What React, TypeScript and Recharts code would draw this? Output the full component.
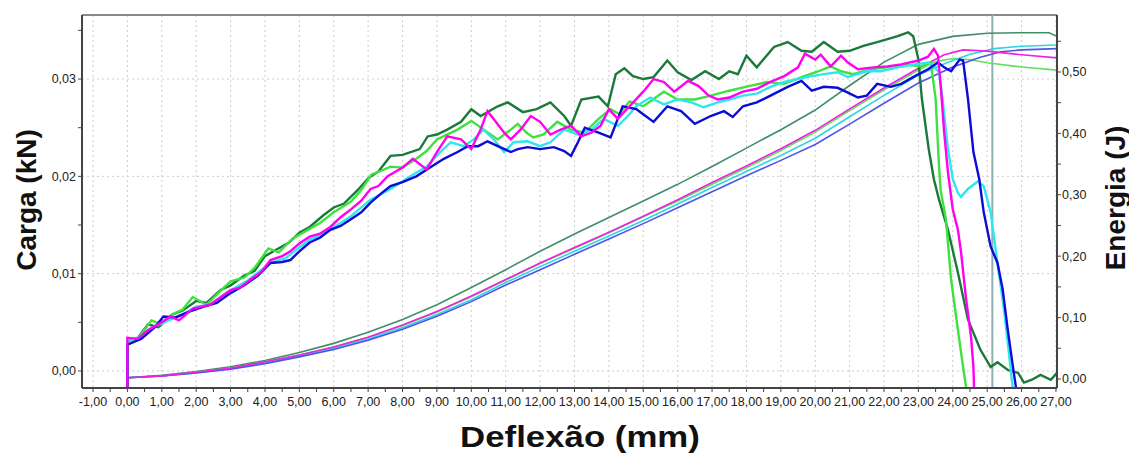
import { ComposedChart, Line, XAxis, YAxis, CartesianGrid, ReferenceLine } from 'recharts';

type Pt = [number, number];

// Carga (kN) vs deflexão (mm), one list per corpo de prova
const loadDarkGreen: Pt[] = [
    [0, -0.003], [0, 0.003], [0.3, 0.0034], [0.6, 0.0048], [0.9, 0.0045], [1.3, 0.0058], [1.6, 0.0062],
    [2.0, 0.0072], [2.3, 0.007], [2.7, 0.0083], [3.0, 0.0088], [3.4, 0.0098], [3.7, 0.0103], [4.0, 0.0118],
    [4.3, 0.0124], [4.7, 0.0132], [5.0, 0.0142], [5.3, 0.0148], [5.7, 0.016], [6.0, 0.0168], [6.3, 0.0172],
    [6.7, 0.0186], [7.0, 0.0198], [7.3, 0.0205], [7.65, 0.0221], [8.0, 0.0222], [8.5, 0.0228], [8.73, 0.0241],
    [9.0, 0.0243], [9.3, 0.0248], [9.7, 0.0256], [10.0, 0.0269], [10.27, 0.0262], [10.77, 0.0272], [11.06, 0.0276],
    [11.5, 0.0266], [11.9, 0.0269], [12.3, 0.0276], [12.7, 0.0262], [12.9, 0.0252], [13.2, 0.0279], [13.7, 0.0282],
    [13.97, 0.0272], [14.2, 0.0305], [14.45, 0.0311], [14.7, 0.0303], [15.0, 0.03], [15.3, 0.0302], [15.7, 0.0319],
    [16.0, 0.0307], [16.4, 0.0299], [16.8, 0.0308], [17.2, 0.03], [17.5, 0.0308], [17.75, 0.0305], [18.0, 0.0324],
    [18.3, 0.0312], [18.8, 0.0333], [19.2, 0.0338], [19.6, 0.0329], [19.9, 0.0328], [20.25, 0.0338], [20.65, 0.0328],
    [21.0, 0.0329], [21.4, 0.0334], [21.8, 0.0338], [22.1, 0.0341], [22.4, 0.0344], [22.7, 0.0348], [22.85, 0.0344],
    [23.0, 0.032], [23.1, 0.028], [23.3, 0.0228], [23.45, 0.0197], [23.6, 0.0176], [23.86, 0.0145], [24.15, 0.0101],
    [24.44, 0.0053], [24.8, 0.0022], [25.1, 0.0004], [25.3, 0.0009], [25.6, 0.0001], [25.9, -0.0002], [26.07, -0.0012],
    [26.3, -0.0009], [26.55, -0.0004], [26.85, -0.0009], [27.03, -0.0002],
];

const loadLightGreen: Pt[] = [
    [0, -0.003], [0, 0.003], [0.3, 0.0033], [0.7, 0.0052], [1.0, 0.0048], [1.3, 0.0058], [1.6, 0.0063],
    [1.9, 0.0076], [2.3, 0.0068], [2.7, 0.0082], [3.0, 0.0092], [3.4, 0.0096], [3.7, 0.0106], [4.1, 0.0126],
    [4.4, 0.0122], [4.8, 0.0136], [5.3, 0.0146], [5.6, 0.0152], [6.0, 0.0163], [6.5, 0.0174], [6.8, 0.0186],
    [7.1, 0.0202], [7.4, 0.0206], [7.65, 0.021], [8.0, 0.0209], [8.4, 0.0218], [8.7, 0.0226], [9.0, 0.0238],
    [9.6, 0.0248], [10.0, 0.0257], [10.36, 0.0248], [10.77, 0.0238], [11.15, 0.0248], [11.35, 0.0254], [11.6, 0.0245],
    [11.8, 0.024], [12.1, 0.0243], [12.5, 0.0256], [12.9, 0.0248], [13.3, 0.0245], [13.7, 0.0259], [14.05, 0.0269],
    [14.3, 0.0264], [14.6, 0.0277], [15.0, 0.0272], [15.6, 0.0287], [16.0, 0.0279], [16.5, 0.0279], [16.96, 0.0283],
    [17.5, 0.0288], [18.1, 0.0293], [18.6, 0.0297], [19.1, 0.0295], [19.6, 0.0302], [20.1, 0.0308], [20.45, 0.0313],
    [20.75, 0.0308], [21.1, 0.0305], [21.6, 0.031], [22.1, 0.0312], [22.6, 0.0315], [23.07, 0.0313], [23.36, 0.0317],
    [23.5, 0.028], [23.6, 0.021], [23.65, 0.0185], [23.8, 0.0156], [23.95, 0.0094], [24.15, 0.0042], [24.3, 0.0004],
    [24.4, -0.002],
];

const loadMagenta: Pt[] = [
    [0, -0.003], [0, 0.0034], [0.3, 0.0033], [0.6, 0.0042], [1.0, 0.005], [1.25, 0.0056], [1.5, 0.0052],
    [1.9, 0.0064], [2.4, 0.0068], [3.0, 0.0083], [3.3, 0.0086], [3.58, 0.0094], [3.9, 0.0102], [4.16, 0.0114],
    [4.5, 0.0118], [4.74, 0.0123], [5.0, 0.0131], [5.3, 0.0138], [5.6, 0.0141], [5.9, 0.0148], [6.2, 0.0158],
    [6.5, 0.0166], [6.8, 0.0175], [7.07, 0.0187], [7.3, 0.019], [7.56, 0.02], [8.0, 0.0209], [8.3, 0.0218],
    [8.7, 0.0207], [9.0, 0.0225], [9.3, 0.0241], [9.7, 0.0238], [10.0, 0.0228], [10.27, 0.0248], [10.47, 0.0267],
    [10.65, 0.0259], [10.95, 0.0245], [11.15, 0.0238], [11.43, 0.0248], [11.73, 0.0262], [12.0, 0.0256], [12.3, 0.0243],
    [12.6, 0.0248], [12.9, 0.0252], [13.2, 0.0241], [13.5, 0.0245], [13.76, 0.0252], [14.0, 0.0269], [14.26, 0.0259],
    [14.6, 0.0272], [15.0, 0.0287], [15.3, 0.03], [15.6, 0.0297], [15.9, 0.0287], [16.3, 0.0298], [16.6, 0.0293],
    [16.9, 0.0283], [17.17, 0.0279], [17.5, 0.0281], [17.9, 0.0287], [18.3, 0.029], [18.7, 0.0297], [19.1, 0.0303],
    [19.5, 0.0312], [19.7, 0.0326], [20.0, 0.032], [20.16, 0.0325], [20.45, 0.0313], [20.75, 0.0324], [20.95, 0.0317],
    [21.24, 0.031], [21.7, 0.0312], [22.1, 0.0313], [22.5, 0.0315], [23.0, 0.0319], [23.28, 0.0323], [23.45, 0.0331],
    [23.57, 0.0324], [23.65, 0.0293], [23.75, 0.0245], [23.86, 0.0204], [24.0, 0.0166], [24.15, 0.0145], [24.24, 0.0122],
    [24.38, 0.0076], [24.53, 0.0035], [24.6, 0.0004], [24.62, -0.002],
];

const loadCyan: Pt[] = [
    [0, -0.003], [0, 0.003], [0.4, 0.0036], [0.8, 0.0046], [1.2, 0.0052], [1.6, 0.0058], [2.0, 0.0066],
    [2.4, 0.0068], [2.8, 0.0078], [3.0, 0.0083], [3.5, 0.0093], [4.16, 0.0111], [4.6, 0.0116], [5.3, 0.0135],
    [5.8, 0.0143], [6.5, 0.0159], [7.07, 0.0176], [7.65, 0.0187], [8.23, 0.02], [8.7, 0.021], [9.1, 0.0225],
    [9.4, 0.0235], [9.78, 0.0231], [10.07, 0.0238], [10.36, 0.0248], [10.65, 0.0238], [10.95, 0.0225], [11.23, 0.0235],
    [11.64, 0.0236], [12.0, 0.0231], [12.3, 0.0235], [12.7, 0.0248], [13.1, 0.0243], [13.5, 0.0248], [13.85, 0.0259],
    [14.26, 0.0252], [14.55, 0.0262], [14.8, 0.0272], [15.2, 0.0281], [15.6, 0.0274], [16.0, 0.0279], [16.4, 0.0276],
    [16.75, 0.0271], [17.17, 0.0276], [17.5, 0.0279], [17.9, 0.0283], [18.3, 0.0285], [18.7, 0.0292], [19.1, 0.0297],
    [19.5, 0.03], [19.9, 0.0303], [20.25, 0.0305], [20.65, 0.0307], [20.95, 0.0302], [21.5, 0.0308], [21.9, 0.0308],
    [22.4, 0.0312], [22.9, 0.0315], [23.28, 0.0317], [23.45, 0.0313], [23.6, 0.0307], [23.7, 0.028], [23.86, 0.0228],
    [24.0, 0.0197], [24.15, 0.0183], [24.24, 0.0179], [24.44, 0.0187], [24.73, 0.0195], [24.9, 0.019], [25.1, 0.0163],
    [25.3, 0.0111], [25.5, 0.006], [25.63, 0.0019], [25.75, -0.002],
];

const loadBlue: Pt[] = [
    [0, -0.003], [0, 0.0027], [0.4, 0.0033], [0.8, 0.0045], [1.05, 0.0056], [1.4, 0.0055], [1.8, 0.0061],
    [2.2, 0.0066], [2.6, 0.007], [3.0, 0.008], [3.4, 0.0088], [3.8, 0.0098], [4.16, 0.0111], [4.5, 0.0112],
    [4.74, 0.0114], [5.0, 0.0123], [5.3, 0.0132], [5.6, 0.0137], [5.9, 0.0145], [6.2, 0.0149], [6.5, 0.0156],
    [6.8, 0.0163], [7.07, 0.0173], [7.4, 0.0183], [7.65, 0.019], [8.0, 0.0194], [8.4, 0.02], [8.8, 0.0209],
    [9.2, 0.0218], [9.6, 0.0225], [9.9, 0.0231], [10.2, 0.0231], [10.47, 0.0236], [10.77, 0.0231], [11.15, 0.0225],
    [11.35, 0.0228], [11.64, 0.023], [12.0, 0.0228], [12.4, 0.023], [12.7, 0.0226], [12.9, 0.0221], [13.1, 0.0235],
    [13.3, 0.025], [13.7, 0.0245], [14.05, 0.024], [14.4, 0.0272], [14.8, 0.0269], [15.3, 0.0256], [15.7, 0.0272],
    [16.1, 0.0267], [16.5, 0.0254], [16.96, 0.0262], [17.35, 0.0267], [17.6, 0.0261], [17.9, 0.0272], [18.3, 0.0276],
    [18.7, 0.0283], [19.2, 0.0292], [19.6, 0.0298], [19.9, 0.0288], [20.25, 0.0292], [20.65, 0.0291], [20.95, 0.0286],
    [21.24, 0.0281], [21.5, 0.0283], [21.8, 0.0295], [22.2, 0.0292], [22.5, 0.0295], [22.9, 0.0303], [23.28, 0.031],
    [23.57, 0.0317], [23.75, 0.0312], [23.95, 0.0308], [24.2, 0.032], [24.3, 0.0319], [24.44, 0.028], [24.6, 0.0225],
    [24.77, 0.0197], [24.9, 0.0163], [25.1, 0.0128], [25.3, 0.0111], [25.45, 0.0084], [25.6, 0.0042], [25.75, 0.0004],
    [25.85, -0.002],
];

// Energia (J) vs deflexão (mm)
const energyDarkGreen: Pt[] = [
    [0, 0.002], [1, 0.006], [2, 0.012], [3, 0.02], [4, 0.03], [5, 0.043], [6, 0.058], [7, 0.076], [8, 0.097],
    [9, 0.121], [10, 0.149], [11, 0.178], [12, 0.208], [13, 0.236], [14, 0.263], [15, 0.29], [16, 0.317],
    [17, 0.346], [18, 0.376], [19, 0.406], [20, 0.438], [21, 0.478], [22, 0.516], [23, 0.545], [24, 0.558],
    [25, 0.563], [26, 0.564], [26.8, 0.564], [27.03, 0.558],
];

const energyLightGreen: Pt[] = [
    [0, 0.002], [1, 0.005], [2, 0.011], [3, 0.018], [4, 0.028], [5, 0.039], [6, 0.052], [7, 0.068], [8, 0.087],
    [9, 0.109], [10, 0.134], [11, 0.161], [12, 0.188], [13, 0.213], [14, 0.238], [15, 0.264], [16, 0.29],
    [17, 0.317], [18, 0.344], [19, 0.372], [20, 0.402], [21, 0.437], [22, 0.471], [23, 0.503], [23.5, 0.517],
    [24, 0.522], [24.5, 0.52], [25, 0.515], [26, 0.508], [27.03, 0.503],
];

const energyMagenta: Pt[] = [
    [0, 0.002], [1, 0.005], [2, 0.011], [3, 0.018], [4, 0.028], [5, 0.039], [6, 0.052], [7, 0.068], [8, 0.088],
    [9, 0.11], [10, 0.135], [11, 0.162], [12, 0.189], [13, 0.214], [14, 0.239], [15, 0.265], [16, 0.292],
    [17, 0.32], [18, 0.347], [19, 0.375], [20, 0.405], [21, 0.44], [22, 0.474], [23, 0.506], [23.75, 0.528],
    [24.3, 0.536], [25, 0.534], [26, 0.528], [27.03, 0.523],
];

const energyCyan: Pt[] = [
    [0, 0.002], [1, 0.005], [2, 0.01], [3, 0.017], [4, 0.026], [5, 0.037], [6, 0.05], [7, 0.065], [8, 0.084],
    [9, 0.105], [10, 0.129], [11, 0.157], [12, 0.183], [13, 0.208], [14, 0.233], [15, 0.258], [16, 0.285],
    [17, 0.312], [18, 0.338], [19, 0.364], [20, 0.392], [21, 0.427], [22, 0.462], [23, 0.495], [23.86, 0.516],
    [24.5, 0.529], [25.2, 0.538], [26, 0.542], [27.03, 0.544],
];

const energyBlue: Pt[] = [
    [0, 0.002], [1, 0.005], [2, 0.01], [3, 0.016], [4, 0.025], [5, 0.036], [6, 0.048], [7, 0.063], [8, 0.081],
    [9, 0.102], [10, 0.126], [11, 0.153], [12, 0.178], [13, 0.203], [14, 0.228], [15, 0.253], [16, 0.279],
    [17, 0.305], [18, 0.331], [19, 0.356], [20, 0.382], [21, 0.415], [22, 0.449], [23, 0.482], [24, 0.508],
    [24.8, 0.524], [25.4, 0.533], [26, 0.536], [27.03, 0.538],
];

const xTicks = [
    -1, -0.5, 0, 0.5, 1, 1.5, 2, 2.5, 3, 3.5, 4, 4.5, 5, 5.5, 6, 6.5, 7, 7.5, 8, 8.5, 9, 9.5, 10, 10.5,
    11, 11.5, 12, 12.5, 13, 13.5, 14, 14.5, 15, 15.5, 16, 16.5, 17, 17.5, 18, 18.5, 19, 19.5, 20, 20.5,
    21, 21.5, 22, 22.5, 23, 23.5, 24, 24.5, 25, 25.5, 26, 26.5, 27,
];
const xGrid = [-1, 0, 1, 2, 3, 4, 5, 6, 7, 8, 9, 10, 11, 12, 13, 14, 15, 16, 17, 18, 19, 20, 21, 22, 23, 24, 25, 26, 27];
const loadTicks = [0, 0.005, 0.01, 0.015, 0.02, 0.025, 0.03, 0.035];
const loadGrid = [0, 0.01, 0.02, 0.03];
const energyTicks = [0, 0.05, 0.1, 0.15, 0.2, 0.25, 0.3, 0.35, 0.4, 0.45, 0.5, 0.55];

const xDomain: [number, number] = [-1.32, 27.03];
const loadDomain: [number, number] = [-0.00175, 0.03658];
const energyDomain: [number, number] = [-0.0147, 0.5928];
const cursorX = 25.15;

const series = [
    { name: 'cp1', load: loadDarkGreen, energy: energyDarkGreen, loadColor: '#1a7a3a', energyColor: '#3f8f66' },
    { name: 'cp2', load: loadLightGreen, energy: energyLightGreen, loadColor: '#3ee23e', energyColor: '#5ee05e' },
    { name: 'cp3', load: loadCyan, energy: energyCyan, loadColor: '#2ee6ee', energyColor: '#30d4e4' },
    { name: 'cp4', load: loadBlue, energy: energyBlue, loadColor: '#0c0cd6', energyColor: '#4d55e6' },
    { name: 'cp5', load: loadMagenta, energy: energyMagenta, loadColor: '#ff00f0', energyColor: '#f020e0' },
];

const toRows = (pts: Pt[]) => pts.map(([x, y]) => ({ x, y }));
const comma = (v: number) => v.toFixed(2).replace('.', ',');
const onStep = (v: number, step: number) => Math.abs(v / step - Math.round(v / step)) < 1e-6;

const FONT = 'Arial, "Liberation Sans", sans-serif';
const tickStyle = { fill: '#222', fontSize: 12.5, fontFamily: FONT };

const titleStyle = (left: number, top: number, rotate: number, size: number, stretch = 1): React.CSSProperties => ({
    position: 'absolute',
    left,
    top,
    transform: `translate(-50%, -50%) rotate(${rotate}deg) scaleX(${stretch})`,
    whiteSpace: 'nowrap',
    fontFamily: FONT,
    fontWeight: 'bold',
    fontSize: size,
    color: '#111',
});

export default function App() {
    return (
        <div style={{ position: 'absolute', left: 0, top: 0, width: 1129, height: 456, background: '#fff' }}>
            <ComposedChart width={1129} height={456} margin={{ top: 15, right: 12, left: 22, bottom: 38 }}>
                <CartesianGrid
                    xAxisId="x"
                    yAxisId="load"
                    verticalValues={xGrid}
                    horizontalValues={loadGrid}
                    stroke="#cccccc"
                    strokeDasharray="2 3"
                />
                <XAxis
                    xAxisId="x"
                    dataKey="x"
                    type="number"
                    domain={xDomain}
                    allowDataOverflow
                    ticks={xTicks}
                    interval={0}
                    tickFormatter={(v: number) => (onStep(v, 1) ? comma(v) : '')}
                    tick={tickStyle}
                    tickSize={4}
                    tickMargin={5}
                    height={30}
                    axisLine={{ stroke: '#444', strokeWidth: 2 }}
                    tickLine={{ stroke: '#444' }}
                />
                <YAxis
                    yAxisId="load"
                    type="number"
                    domain={loadDomain}
                    allowDataOverflow
                    ticks={loadTicks}
                    interval={0}
                    tickFormatter={(v: number) => (onStep(v, 0.01) ? comma(v) : '')}
                    tick={tickStyle}
                    tickSize={4}
                    tickMargin={2}
                    width={60}
                    axisLine={{ stroke: '#444', strokeWidth: 2 }}
                    tickLine={{ stroke: '#444' }}
                />
                <YAxis
                    yAxisId="energy"
                    orientation="right"
                    type="number"
                    domain={energyDomain}
                    allowDataOverflow
                    ticks={energyTicks}
                    interval={0}
                    tickFormatter={(v: number) => (onStep(v, 0.1) ? comma(v) : '')}
                    tick={tickStyle}
                    tickSize={4}
                    tickMargin={1}
                    width={60}
                    axisLine={{ stroke: '#444', strokeWidth: 2 }}
                    tickLine={{ stroke: '#444' }}
                />
                <ReferenceLine xAxisId="x" yAxisId="load" y={loadDomain[1]} stroke="#8a8a8a" strokeWidth={2} />
                <ReferenceLine xAxisId="x" yAxisId="load" x={cursorX} stroke="#8fb0b0" strokeWidth={2} />
                {series.map((s) => (
                    <Line
                        key={s.name + '-e'}
                        xAxisId="x"
                        yAxisId="energy"
                        data={toRows(s.energy)}
                        dataKey="y"
                        type="linear"
                        stroke={s.energyColor}
                        strokeWidth={1.6}
                        dot={false}
                        isAnimationActive={false}
                    />
                ))}
                {series.map((s) => (
                    <Line
                        key={s.name + '-l'}
                        xAxisId="x"
                        yAxisId="load"
                        data={toRows(s.load)}
                        dataKey="y"
                        type="linear"
                        stroke={s.loadColor}
                        strokeWidth={2.4}
                        dot={false}
                        isAnimationActive={false}
                    />
                ))}
            </ComposedChart>
            <div style={titleStyle(27, 200, -90, 28)}>Carga (kN)</div>
            <div style={titleStyle(1116, 198, -90, 28)}>Energia (J)</div>
            <div style={titleStyle(580, 437, 0, 29, 1.2)}>Deflexão (mm)</div>
        </div>
    );
}
